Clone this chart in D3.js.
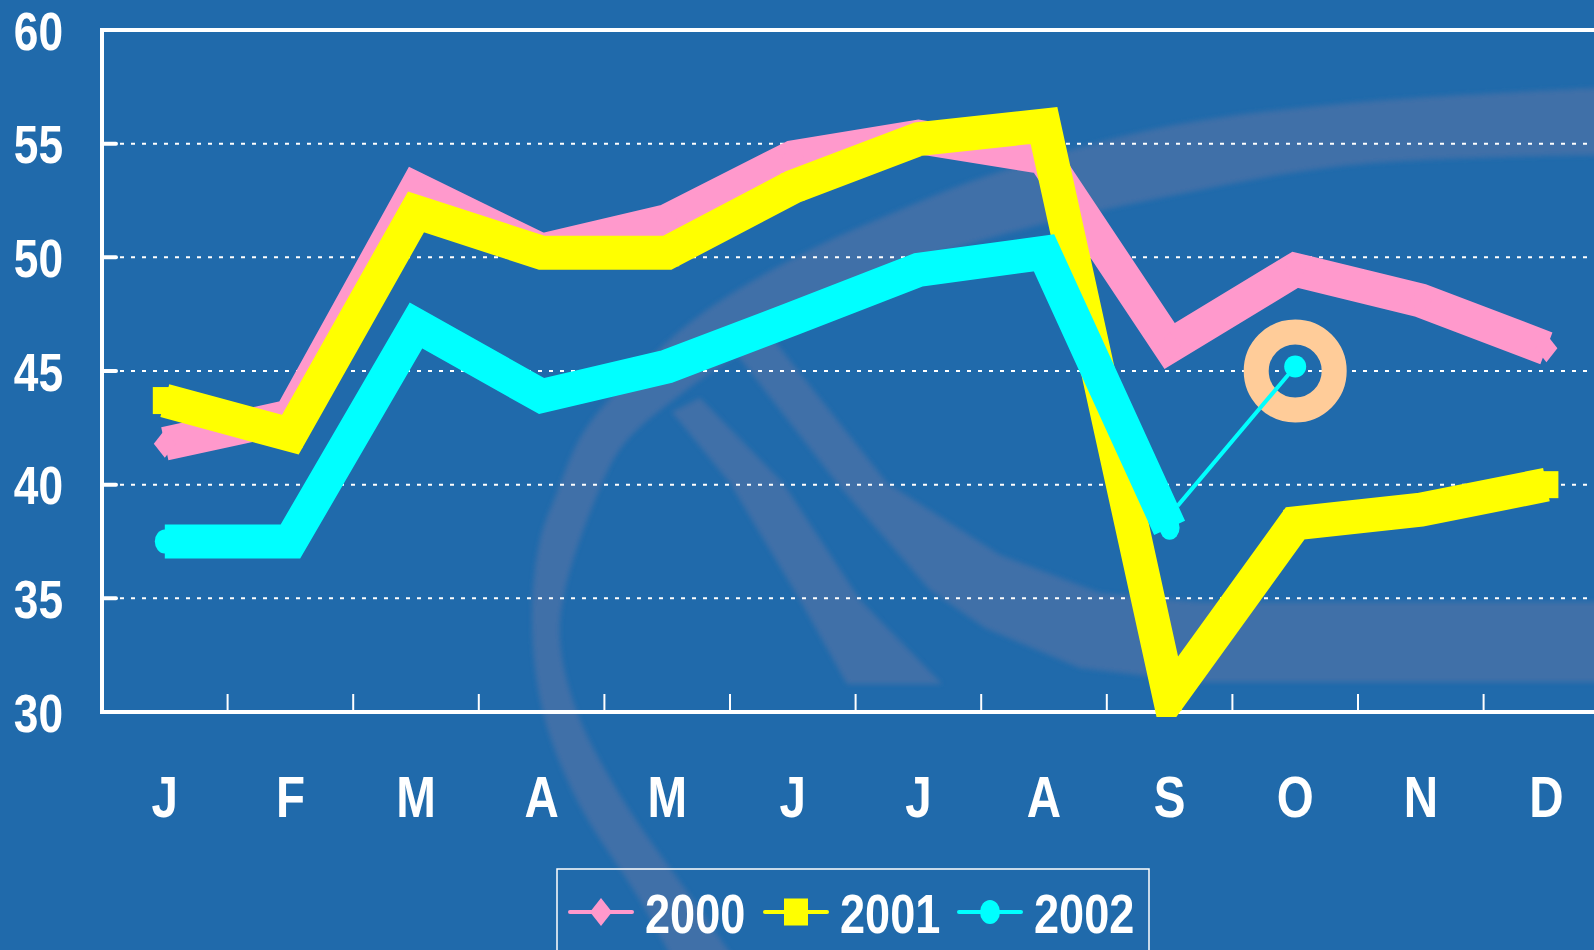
<!DOCTYPE html>
<html>
<head>
<meta charset="utf-8">
<script src="https://cdn.jsdelivr.net/npm/d3@7/dist/d3.min.js"></script>
<style>
  body { margin: 0; background: #206aab; }
  svg { display: block; }
  text { font-family: "Liberation Sans", Arial, sans-serif; font-weight: bold; fill: #fff; }
</style>
</head>
<body>
<svg id="chart" width="1594" height="950"></svg>
<script>
// data
const months = ["J", "F", "M", "A", "M", "J", "J", "A", "S", "O", "N", "D"];
const yTicks = [30, 35, 40, 45, 50, 55, 60];
const years = ["2000", "2001", "2002"];
const values2000 = [41.8, 43.0, 53.0, 50.3, 51.6, 54.4, 55.3, 54.4, 46.1, 49.45, 48.1, 46.0];
const values2001 = [43.7, 42.2, 52.0, 50.2, 50.2, 53.1, 55.2, 55.8, 30.65, 38.3, 38.9, 40.0];
const values2002 = [37.5, 37.5, 47.0, 43.9, 45.2, 47.3, 49.45, 50.2, 38.1];
const october2002 = 45.2;   // estimate for october, linked by a thin line
const ringValue = 45.0;

const colors = { "2000": "#ff99cc", "2001": "#ffff00", "2002": "#00ffff" };

const svg = d3.select("#chart");
const W = 1594, H = 950;
const narrow = 0.82; // squeeze Liberation Sans into an Arial Narrow look

// scales
const x = d3.scaleBand().domain(d3.range(months.length)).range([102, 102 + 12 * 125.6]);
const cx = i => x(i) + x.bandwidth() / 2;
const y = d3.scaleLinear().domain([30, 60]).range([712, 30]);

svg.append("rect").attr("width", W).attr("height", H).attr("fill", "#206aab");

// faint logo in the background
const defs = svg.append("defs");
defs.append("filter").attr("id", "soft")
  .append("feGaussianBlur").attr("stdDeviation", 2.5);
defs.append("clipPath").attr("id", "plotclip")
  .append("rect").attr("x", 0).attr("y", 0).attr("width", W).attr("height", 717);

const logo = svg.append("g").attr("filter", "url(#soft)").attr("fill", "#3f70a8");
const ringOuter = [[673, 960], [640, 900], [577, 800], [543, 712], [532, 620], [540, 540], [556, 495],
  [583, 433], [628, 380], [700, 315], [800, 255], [900, 210], [990, 175], [1160, 128], [1350, 103], [1600, 88]];
const ringInner = [[1600, 155], [1350, 165], [1160, 198], [990, 238], [860, 282], [760, 340], [680, 395],
  [623, 445], [593, 505], [565, 590], [560, 640], [577, 712], [623, 800], [693, 900], [735, 960]];
const smooth = d3.line().curve(d3.curveCatmullRom);
logo.append("path").attr("d", smooth(ringOuter) + "L" + smooth(ringInner).slice(1) + "Z");
const stripe = [[672, 412], [700, 398], [783, 483], [860, 600], [942, 684], [847, 684], [800, 600], [730, 483]];
logo.append("path").attr("d", d3.line()(stripe) + "Z");
const swoosh = [[772, 338], [887, 483], [1000, 555], [1100, 593], [1200, 602], [1600, 602],
  [1600, 682], [1200, 682], [1080, 668], [985, 628], [930, 590], [837, 483], [735, 352]];
logo.append("path").attr("d", d3.line()(swoosh) + "Z");

// dotted gridlines
svg.append("g").selectAll("line").data(yTicks.filter(t => t > 30 && t < 60)).join("line")
  .attr("x1", 120).attr("x2", W).attr("y1", d => y(d)).attr("y2", d => y(d))
  .attr("stroke", "#fff").attr("stroke-width", 2).attr("stroke-dasharray", "4 7");

// frame and axes
svg.append("line").attr("x1", 100).attr("x2", W).attr("y1", y(60)).attr("y2", y(60))
  .attr("stroke", "#fff").attr("stroke-width", 4);
svg.append("line").attr("x1", 102).attr("x2", 102).attr("y1", y(60) - 2).attr("y2", y(30) + 2)
  .attr("stroke", "#fff").attr("stroke-width", 4);
svg.append("line").attr("x1", 100).attr("x2", W).attr("y1", y(30)).attr("y2", y(30))
  .attr("stroke", "#fff").attr("stroke-width", 4);
svg.append("g").selectAll("line").data(yTicks).join("line")
  .attr("x1", 103).attr("x2", 116).attr("y1", d => y(d)).attr("y2", d => y(d))
  .attr("stroke", "#fff").attr("stroke-width", 4).attr("stroke-linecap", "round");
svg.append("g").selectAll("line").data(d3.range(1, months.length)).join("line")
  .attr("x1", d => x(d)).attr("x2", d => x(d)).attr("y1", y(30) - 18).attr("y2", y(30))
  .attr("stroke", "#fff").attr("stroke-width", 2);

// tick labels
svg.append("g").selectAll("text").data(yTicks).join("text")
  .attr("transform", d => `translate(63,${y(d) + 19.5}) scale(${narrow},1)`)
  .attr("text-anchor", "end").style("font-size", "54px").text(d => d);
svg.append("g").selectAll("text").data(months).join("text")
  .attr("transform", (d, i) => `translate(${cx(i)},817) scale(${narrow},1)`)
  .attr("text-anchor", "middle").style("font-size", "58px").text(d => d);

// markers
function marker(g, year, px, py) {
  if (year === "2000") {
    g.append("path").attr("d", `M${px},${py - 14}L${px + 11},${py}L${px},${py + 14}L${px - 11},${py}Z`)
      .attr("fill", colors[year]);
  } else if (year === "2001") {
    g.append("rect").attr("x", px - 12).attr("y", py - 13.5).attr("width", 24).attr("height", 27)
      .attr("fill", colors[year]);
  } else {
    g.append("ellipse").attr("cx", px).attr("cy", py).attr("rx", 10).attr("ry", 12)
      .attr("fill", colors[year]);
  }
}

// series
const line = d3.line().x((d, i) => cx(i)).y(d => y(d));
const series = { "2000": values2000, "2001": values2001, "2002": values2002 };
const plot = svg.append("g").attr("clip-path", "url(#plotclip)");
years.forEach(year => {
  const g = plot.append("g");
  g.append("path").attr("d", line(series[year]))
    .attr("fill", "none").attr("stroke", colors[year]).attr("stroke-width", 34)
    .attr("stroke-linejoin", "miter").attr("stroke-miterlimit", 4);
  series[year].forEach((v, i) => marker(g, year, cx(i), y(v)));
});

// october 2002 annotation
const sIdx = values2002.length - 1, oIdx = 9;
svg.append("circle").attr("cx", cx(oIdx)).attr("cy", y(ringValue)).attr("r", 39)
  .attr("fill", "none").attr("stroke", "#ffcc99").attr("stroke-width", 25);
svg.append("line")
  .attr("x1", cx(sIdx) + 8).attr("y1", y(values2002[sIdx]) - 22)
  .attr("x2", cx(oIdx)).attr("y2", y(october2002))
  .attr("stroke", colors["2002"]).attr("stroke-width", 4);
svg.append("circle").attr("cx", cx(oIdx)).attr("cy", y(october2002)).attr("r", 11)
  .attr("fill", colors["2002"]);

// legend
const legend = svg.append("g");
legend.append("rect").attr("x", 557).attr("y", 869).attr("width", 592).attr("height", 120)
  .attr("fill", "none").attr("stroke", "#fff").attr("stroke-width", 1.5);
const legendX = [570, 765, 959];
years.forEach((year, k) => {
  const lx = legendX[k], ly = 912;
  legend.append("line").attr("x1", lx).attr("x2", lx + 62).attr("y1", ly).attr("y2", ly)
    .attr("stroke", colors[year]).attr("stroke-width", 4).attr("stroke-linecap", "round");
  marker(legend, year, lx + 31, ly);
  legend.append("text").attr("transform", `translate(${lx + 75},933) scale(${narrow},1)`)
    .style("font-size", "55px").text(year);
});
</script>
</body>
</html>
